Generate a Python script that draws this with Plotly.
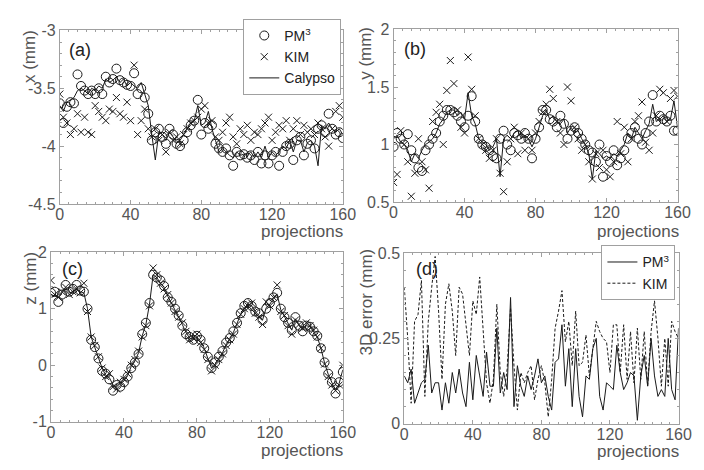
import plotly.graph_objects as go

# projections sampled every 2
proj = list(range(0, 161, 2))

# ---- panel (a): x (mm)
pm3_x = [-3.63, -3.80, -3.66, -3.62, -3.63, -3.38, -3.48, -3.52, -3.55, -3.52,
         -3.55, -3.50, -3.55, -3.40, -3.45, -3.42, -3.33, -3.43, -3.45, -3.47,
         -3.48, -3.37, -3.55, -3.50, -3.58, -3.72, -3.95, -3.88, -3.85, -3.92,
         -3.98, -3.85, -3.90, -3.98, -4.00, -3.95, -3.88, -3.82, -3.78, -3.60,
         -3.90, -3.80, -3.85, -3.82, -3.98, -4.02, -4.05, -4.02, -4.08, -4.17,
         -4.05, -4.08, -4.07, -4.10, -4.08, -4.12, -4.05, -4.15, -4.08, -4.15,
         -4.08, -4.05, -4.17, -4.05, -4.00, -3.98, -4.12, -3.95, -3.92, -4.08,
         -3.98, -3.95, -4.02, -3.85, -3.82, -3.88, -3.72, -3.85, -3.90, -3.88,
         -3.93]
kim_x = [-3.55, -3.75, -3.80, -3.90, -3.85, -3.72, -3.88, -3.75, -3.88, -3.90,
         -3.65, -3.70, -3.75, -3.78, -3.68, -3.70, -3.58, -3.72, -3.75, -3.62,
         -3.78, -3.30, -3.90, -3.78, -3.68, -3.85, -3.92, -3.85, -3.95, -3.90,
         -4.05, -3.88, -3.95, -3.92, -3.98, -3.90, -3.85, -3.80, -3.78, -3.75,
         -3.68, -3.65, -3.80, -3.78, -3.92, -3.95, -3.88, -3.80, -3.75, -3.92,
         -3.98, -3.85, -3.90, -3.82, -3.95, -3.88, -3.90, -3.85, -3.80, -3.75,
         -3.95, -3.88, -3.82, -3.85, -3.78, -3.95, -3.85, -3.78, -3.90, -3.82,
         -3.88, -3.85, -3.90, -3.80, -3.85, -3.92, -4.00, -3.85, -3.70, -3.65,
         -3.75]
cal_x = [-3.65, -3.70, -3.62, -3.60, -3.58, -3.52, -3.50, -3.52, -3.55, -3.50,
         -3.52, -3.48, -3.50, -3.42, -3.45, -3.43, -3.40, -3.45, -3.42, -3.48,
         -3.45, -3.48, -3.50, -3.45, -3.55, -3.65, -3.90, -4.12, -3.88, -3.90,
         -3.95, -3.88, -3.92, -3.97, -3.95, -3.90, -3.85, -3.80, -3.78, -3.65,
         -3.82, -3.80, -3.70, -3.85, -3.95, -4.05, -4.02, -4.05, -4.08, -4.10,
         -4.05, -4.08, -4.07, -4.08, -4.05, -4.10, -4.05, -4.10, -4.00, -4.10,
         -4.05, -4.08, -4.05, -4.00, -4.02, -3.95, -4.05, -3.95, -3.95, -4.05,
         -3.97, -3.95, -4.00, -4.17, -3.82, -3.85, -3.80, -3.85, -3.88, -3.85,
         -3.90]

# ---- panel (b): y (mm)
pm3_y = [0.98, 1.10, 1.05, 1.00, 1.09, 0.95, 0.88, 0.80, 0.77, 0.95,
         1.00, 1.05, 1.10, 1.20, 1.25, 1.30, 1.30, 1.28, 1.25, 1.20,
         1.15, 1.25, 1.42, 1.20, 1.05, 1.00, 0.98, 0.95, 0.90, 0.88,
         1.05, 1.12, 1.00, 0.95, 1.10, 1.08, 1.05, 1.10, 1.05, 0.88,
         1.05, 1.15, 1.30, 1.30, 1.22, 1.20, 1.15, 1.25, 1.18, 1.05,
         1.12, 1.15, 1.10, 1.05, 1.00, 0.95, 0.93, 0.85, 1.00, 0.72,
         0.90, 0.85, 0.95, 0.82, 0.88, 0.95, 1.05, 1.10, 1.15, 1.05,
         1.00, 1.10, 1.20, 1.43, 1.20, 1.25, 1.22, 1.20, 1.25, 1.12,
         1.12]
kim_y = [0.67, 0.74, 1.12, 1.00, 0.85, 0.55, 0.75, 1.05, 0.85, 0.78,
         0.62, 1.20, 1.28, 1.35, 1.00, 1.47, 1.73, 1.53, 1.30, 1.15,
         1.10, 1.76, 1.48, 1.25, 1.05, 1.00, 0.95, 0.88, 0.95, 1.05,
         0.75, 0.59, 0.85, 1.05, 1.15, 0.92, 1.10, 0.95, 1.05, 0.95,
         1.10, 1.20, 1.28, 1.35, 1.48, 1.40, 1.20, 1.10, 1.00, 1.50,
         1.38, 1.15, 1.05, 0.95, 1.00, 0.85, 0.70, 0.92, 0.80, 0.95,
         0.78, 0.72, 0.85, 1.20, 0.92, 1.15, 0.85, 1.05, 1.20, 1.25,
         1.37, 1.02, 0.95, 1.10, 1.25, 1.48, 1.45, 1.20, 1.40, 1.47,
         1.42]
cal_y = [1.05, 1.08, 1.02, 1.00, 0.95, 0.85, 0.92, 0.88, 0.95, 1.00,
         1.02, 1.05, 1.10, 1.18, 1.22, 1.28, 1.30, 1.30, 1.25, 1.28,
         1.22, 1.45, 1.25, 1.18, 1.05, 1.02, 1.00, 0.95, 0.98, 1.05,
         0.72, 1.05, 1.08, 1.05, 1.10, 1.12, 1.05, 1.08, 1.05, 0.98,
         1.05, 1.15, 1.25, 1.30, 1.22, 1.25, 1.20, 1.18, 1.22, 1.10,
         1.15, 1.10, 1.12, 1.05, 1.00, 0.92, 0.70, 0.95, 0.92, 0.88,
         0.90, 0.88, 0.92, 0.90, 0.95, 1.00, 1.10, 1.05, 1.15, 1.10,
         1.05, 1.12, 1.18, 1.35, 1.20, 1.22, 1.25, 1.20, 1.22, 1.38,
         1.15]

# ---- panel (c): z (mm)
pm3_z = [1.28, 1.30, 1.12, 1.25, 1.42, 1.30, 1.35, 1.42, 1.32, 1.30,
         1.00, 0.45, 0.32, 0.12, -0.10, -0.15, -0.25, -0.45, -0.35, -0.38,
         -0.30, -0.20, -0.05, 0.05, 0.20, 0.55, 0.75, 1.10, 1.60, 1.55,
         1.50, 1.40, 1.20, 1.12, 1.00, 0.88, 0.70, 0.55, 0.50, 0.45,
         0.52, 0.45, 0.30, 0.15, -0.05, 0.05, 0.15, 0.25, 0.40, 0.48,
         0.60, 0.75, 0.92, 1.05, 1.10, 1.05, 0.95, 0.92, 0.80, 1.00,
         1.10, 1.20, 1.28, 1.00, 0.85, 0.75, 0.62, 0.85, 0.70, 0.60,
         0.70, 0.68, 0.60, 0.52, 0.30, 0.05, -0.15, -0.30, -0.50, -0.30,
         -0.12]
kim_z = [1.50, 1.25, 1.20, 1.30, 1.38, 1.25, 1.30, 1.35, 1.28, 1.45,
         0.95, 0.50, 0.35, 0.15, -0.05, -0.20, -0.15, -0.38, -0.42, -0.30,
         -0.25, -0.15, 0.00, 0.10, 0.25, 0.50, 0.70, 1.05, 1.72, 1.60,
         1.45, 1.35, 1.25, 1.10, 0.95, 0.85, 0.75, 0.60, 0.45, 0.48,
         0.55, 0.40, 0.28, 0.10, -0.10, 0.00, 0.10, 0.20, 0.35, 0.45,
         0.55, 0.72, 0.90, 1.00, 1.05, 1.10, 0.92, 0.85, 0.72, 1.12,
         1.05, 1.20, 1.42, 0.95, 0.88, 0.70, 0.55, 0.80, 0.72, 0.65,
         0.75, 0.70, 0.62, 0.50, 0.30, 0.02, -0.20, -0.35, -0.45, -0.35,
         0.00]
cal_z = [1.25, 1.22, 1.20, 1.28, 1.35, 1.28, 1.30, 1.35, 1.30, 1.28,
         1.00, 0.50, 0.32, 0.15, -0.05, -0.18, -0.22, -0.35, -0.38, -0.32,
         -0.28, -0.18, -0.02, 0.08, 0.22, 0.52, 0.72, 1.08, 1.60, 1.55,
         1.45, 1.38, 1.22, 1.10, 0.98, 0.86, 0.72, 0.58, 0.48, 0.46,
         0.50, 0.42, 0.30, 0.12, -0.05, 0.02, 0.12, 0.22, 0.36, 0.46,
         0.58, 0.74, 0.90, 1.02, 1.08, 1.05, 0.95, 0.88, 0.80, 1.02,
         1.08, 1.18, 1.25, 0.98, 0.86, 0.72, 0.62, 0.82, 0.70, 0.62,
         0.70, 0.68, 0.60, 0.50, 0.30, 0.04, -0.16, -0.30, -0.45, -0.32,
         -0.08]

# ---- panel (d): 3D error (mm)
pm3_err = [0.14, 0.12, 0.16, 0.06, 0.09, 0.12, 0.13, 0.23, 0.09, 0.12,
           0.12, 0.04, 0.12, 0.06, 0.15, 0.09, 0.16, 0.09, 0.05, 0.18,
           0.07, 0.20, 0.14, 0.08, 0.21, 0.11, 0.11, 0.28, 0.09, 0.15,
           0.10, 0.37, 0.05, 0.17, 0.11, 0.08, 0.14, 0.10, 0.14, 0.19,
           0.12, 0.14, 0.08, 0.04, 0.18, 0.19, 0.29, 0.11, 0.22, 0.05,
           0.22, 0.08, 0.02, 0.14, 0.13, 0.22, 0.25, 0.08, 0.04, 0.12,
           0.11, 0.10, 0.23, 0.15, 0.10, 0.12, 0.15, 0.14, 0.01, 0.14,
           0.20, 0.11, 0.25, 0.14, 0.08, 0.10, 0.08, 0.25, 0.10, 0.07,
           0.28]
kim_err = [0.40, 0.25, 0.06, 0.30, 0.32, 0.42, 0.08, 0.30, 0.40, 0.49,
           0.33, 0.13, 0.35, 0.41, 0.33, 0.20, 0.40, 0.38, 0.29, 0.20,
           0.36, 0.32, 0.43, 0.27, 0.12, 0.06, 0.13, 0.35, 0.15, 0.08,
           0.16, 0.34, 0.17, 0.04, 0.15, 0.12, 0.15, 0.17, 0.07, 0.13,
           0.17, 0.12, 0.02, 0.13, 0.28, 0.33, 0.39, 0.24, 0.30, 0.17,
           0.33, 0.17, 0.18, 0.26, 0.14, 0.22, 0.30, 0.27, 0.25, 0.24,
           0.15, 0.29, 0.29, 0.15, 0.29, 0.13, 0.27, 0.12, 0.28, 0.13,
           0.27, 0.11, 0.27, 0.36, 0.25, 0.11, 0.25, 0.11, 0.30, 0.27,
           0.25]

INK = "#1a1a1a"
GRID = "#a0a0a0"
TXT = "#555555"
FONT = "Liberation Sans Narrow, Arial Narrow, Liberation Sans, Arial"

fig = go.Figure()

def markers(x, y, sym, size, ax, name, show, legend="legend"):
    fig.add_trace(go.Scatter(
        x=x, y=y, mode="markers", name=name, showlegend=show, legend=legend,
        xaxis=ax[0], yaxis=ax[1],
        marker=dict(symbol=sym, size=size, color=INK, line=dict(width=1, color=INK))))

def line(x, y, ax, name, show, dash="solid", legend="legend"):
    fig.add_trace(go.Scatter(
        x=x, y=y, mode="lines", name=name, showlegend=show, legend=legend,
        xaxis=ax[0], yaxis=ax[1],
        line=dict(color=INK, width=1, dash=dash)))

PM3 = "PM<sup>3</sup>"
markers(proj, pm3_x, "circle-open", 9, ("x", "y"), PM3, True)
markers(proj, kim_x, "x-thin-open", 7, ("x", "y"), "KIM", True)
line(proj, cal_x, ("x", "y"), "Calypso", True)

markers(proj, pm3_y, "circle-open", 9, ("x2", "y2"), PM3, False)
markers(proj, kim_y, "x-thin-open", 7, ("x2", "y2"), "KIM", False)
line(proj, cal_y, ("x2", "y2"), "Calypso", False)

markers(proj, pm3_z, "circle-open", 9, ("x3", "y3"), PM3, False)
markers(proj, kim_z, "x-thin-open", 7, ("x3", "y3"), "KIM", False)
line(proj, cal_z, ("x3", "y3"), "Calypso", False)

line(proj, pm3_err, ("x4", "y4"), PM3, True, legend="legend2")
line(proj, kim_err, ("x4", "y4"), "KIM", True, dash="3px,2px", legend="legend2")

W, H = 704, 470
def dx(a, b): return [a / W, b / W]
def dy(top, bot): return [1 - bot / H, 1 - top / H]

def xax(dom, anchor):
    return dict(domain=dom, anchor=anchor, range=[0, 160], tickvals=[0, 40, 80, 120, 160],
                showline=True, linecolor=GRID, linewidth=1, mirror="allticks",
                ticks="inside", ticklen=4, tickcolor=GRID, showgrid=False, zeroline=False,
                ticklabelstandoff=-4,
                minor=dict(ticks="inside", ticklen=2, dtick=5, tickcolor=GRID),
                tickfont=dict(size=16, color=TXT, family=FONT))

def yax(dom, anchor, rng, tv, tt, mdt):
    return dict(domain=dom, anchor=anchor, range=rng, tickvals=tv, ticktext=tt,
                showline=True, linecolor=GRID, linewidth=1, mirror="allticks",
                ticks="inside", ticklen=4, tickcolor=GRID, showgrid=False, zeroline=False,
                minor=dict(ticks="inside", ticklen=2, dtick=mdt, tickcolor=GRID),
                tickfont=dict(size=16, color=TXT, family=FONT))

ann = []
def text(x, y, s, size=17, angle=0, xa="center", color=TXT):
    ann.append(dict(x=x / W, y=1 - y / H, xref="paper", yref="paper", text=s,
                    showarrow=False, textangle=angle, xanchor=xa, yanchor="middle",
                    font=dict(size=size, color=color, family=FONT)))

text(18, 42, "x (mm)", angle=-90)
text(362, 39, "y (mm)", angle=-90)
text(19, 272, "z (mm)", angle=-90)
text(363, 297, "3D error (mm)", angle=-90)
for xr, yy in [(341, 224), (686, 224), (341, 451), (686, 452)]:
    text(xr, yy, "projections", xa="right")
text(70, 35, "(a)", size=18, color="#222")
text(413, 34, "(b)", size=18, color="#222")
text(62, 263, "(c)", size=18, color="#222")
text(425, 263, "(d)", size=18, color="#222")

fig.update_layout(
    width=W, height=H, margin=dict(l=0, r=0, t=0, b=0),
    paper_bgcolor="white", plot_bgcolor="white",
    font=dict(family=FONT, color=TXT),
    xaxis=xax(dx(49, 339), "y"),
    yaxis=yax(dy(15, 195), "x", [-4.5, -3], [-4.5, -4, -3.5, -3], ["-4.5", "-4", "-3.5", "-3"], 0.1),
    xaxis2=xax(dx(391, 682), "y2"),
    yaxis2=yax(dy(14, 193), "x2", [0.5, 2], [0.5, 1, 1.5, 2], ["0.5", "1", "1.5", "2"], 0.1),
    xaxis3=xax(dx(40, 339), "y3"),
    yaxis3=yax(dy(245, 421), "x3", [-1, 2], [-1, 0, 1, 2], ["-1", "0", "1", "2"], 0.2),
    xaxis4=xax(dx(402, 683), "y4"),
    yaxis4=yax(dy(246, 423), "x4", [0, 0.5], [0, 0.25, 0.5], ["0", "0.25", "0.5"], 0.05),
    legend=dict(x=237 / W, y=1 - 3 / H, xanchor="left", yanchor="top",
                bordercolor=GRID, borderwidth=1, bgcolor="white", itemwidth=30,
                tracegroupgap=0, font=dict(size=14, color="#222", family=FONT)),
    legend2=dict(x=604 / W, y=1 - 238 / H, xanchor="left", yanchor="top",
                 bordercolor=GRID, borderwidth=1, bgcolor="white", itemwidth=30,
                 tracegroupgap=0, font=dict(size=14, color="#222", family=FONT)),
    annotations=ann,
    showlegend=True,
)

fig.write_html("out.html")
